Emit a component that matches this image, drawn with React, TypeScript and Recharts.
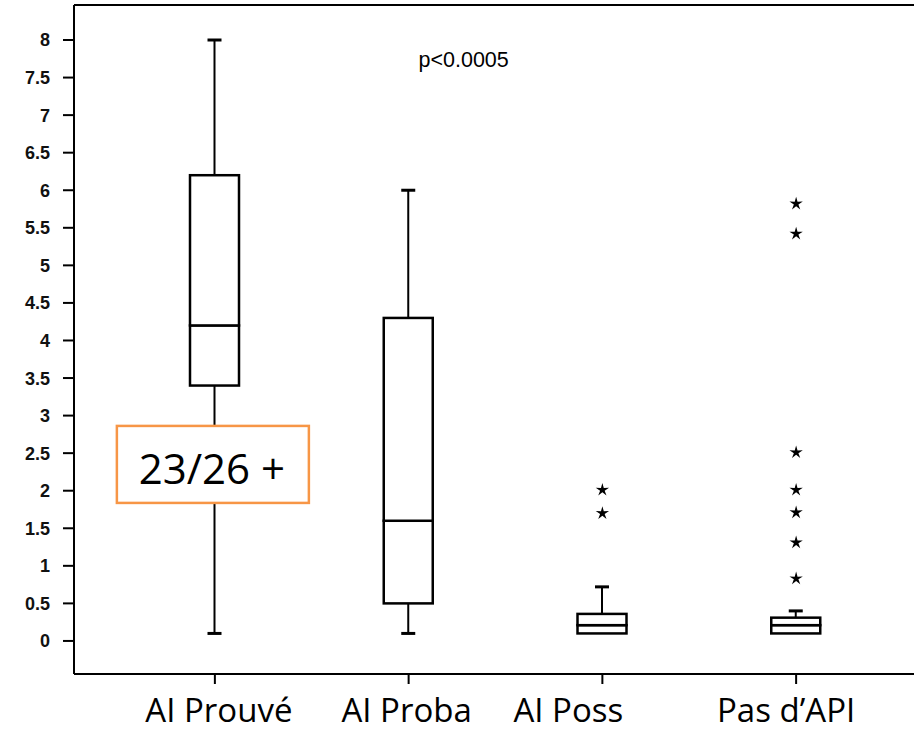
import React from 'react';
import { ComposedChart, Bar, Line, XAxis, YAxis, ReferenceLine, ReferenceDot } from 'recharts';

const categories = ['AI Prouvé', 'AI Proba', 'AI Poss', 'Pas d’API'];
const whiskerLow = [0.1, 0.1, 0.1, 0.1];
const quartile1 = [3.4, 0.5, 0.1, 0.1];
const medians = [4.2, 1.6, 0.21, 0.21];
const quartile3 = [6.2, 4.3, 0.36, 0.31];
const whiskerHigh = [8.0, 6.0, 0.72, 0.4];
const outliers: number[][] = [[], [], [2.01, 1.7], [5.82, 5.42, 2.51, 2.01, 1.71, 1.31, 0.83]];
const yTicks = [0, 0.5, 1, 1.5, 2, 2.5, 3, 3.5, 4, 4.5, 5, 5.5, 6, 6.5, 7, 7.5, 8];
const annotationText = '23/26 +';
const annotationValue = 2.35;
const pValueText = 'p<0.0005';
const pValueY = 7.64;

const Y_MIN = -0.44;
const Y_MAX = 8.466;
const labelShift = [4, -2, -34, -10];
const outlierKeys = ['o1', 'o2', 'o3', 'o4', 'o5', 'o6', 'o7'];

const data = categories.map((name, i) => {
  const row: any = {
    name,
    base: whiskerLow[i],
    lw: quartile1[i] - whiskerLow[i],
    lb: medians[i] - quartile1[i],
    ub: quartile3[i] - medians[i],
    uw: whiskerHigh[i] - quartile3[i],
  };
  outlierKeys.forEach((k, j) => {
    row[k] = outliers[i][j] !== undefined ? outliers[i][j] : null;
  });
  return row;
});

const Empty = () => <g />;

const BoxRect = (p: any) => {
  const { x, y, width, height } = p;
  if (!(height > 0)) return <g />;
  return <rect x={x} y={y} width={width} height={height} fill="#fff" stroke="#000" strokeWidth={2.5} />;
};

const LowerWhisker = (p: any) => {
  const { x, y, width, height } = p;
  if (!(height > 1)) return <g />;
  const cx = x + width / 2;
  return (
    <g>
      <line x1={cx} x2={cx} y1={y} y2={y + height} stroke="#000" strokeWidth={2} />
      <line x1={cx - 7} x2={cx + 7} y1={y + height} y2={y + height} stroke="#000" strokeWidth={3} />
    </g>
  );
};

const UpperWhisker = (p: any) => {
  const { x, y, width, height } = p;
  if (!(height > 1)) return <g />;
  const cx = x + width / 2;
  return (
    <g>
      <line x1={cx} x2={cx} y1={y} y2={y + height} stroke="#000" strokeWidth={2} />
      <line x1={cx - 7} x2={cx + 7} y1={y} y2={y} stroke="#000" strokeWidth={3} />
    </g>
  );
};

const starPath = (cx: number, cy: number, ro: number, ri: number) => {
  const pts: string[] = [];
  for (let i = 0; i < 10; i++) {
    const r = i % 2 === 0 ? ro : ri;
    const a = -Math.PI / 2 + (i * Math.PI) / 5;
    pts.push(`${cx + r * Math.cos(a)},${cy + r * Math.sin(a)}`);
  }
  return 'M' + pts.join('L') + 'Z';
};

const StarDot = (p: any) => {
  const { cx, cy, value, key } = p;
  if (value === null || value === undefined || cy === null || cy === undefined || isNaN(cy)) return <g key={key} />;
  return <path key={key} d={starPath(cx, cy, 7, 2.4)} fill="#000" />;
};

const XTick = (p: any) => {
  const { x, y, payload, index } = p;
  const i = index !== undefined ? index : categories.indexOf(payload.value);
  return (
    <text x={x + (labelShift[i] || 0)} y={y} dy="0.71em" textAnchor="middle" fontFamily="'Open Sans', sans-serif" fontSize={33} fill="#000">
      {payload.value}
    </text>
  );
};

const YTick = (p: any) => {
  const { x, y, payload } = p;
  return (
    <text x={x} y={y} dy="0.36em" textAnchor="end" fontFamily="'Liberation Sans', Arial, sans-serif" fontSize={18} fontWeight="bold" fill="#111">
      {String(payload.value)}
    </text>
  );
};

const AnnotationBox = (p: any) => {
  const { cx, cy } = p;
  return (
    <g>
      <rect x={cx - 98} y={cy - 38.5} width={192} height={77} fill="#fff" stroke="#F79646" strokeWidth={2.5} />
      <text x={cx - 3} y={cy + 19.5} textAnchor="middle" fontFamily="'Open Sans', sans-serif" fontSize={42} fill="#000">
        {annotationText}
      </text>
    </g>
  );
};

const PValue = (p: any) => {
  const { cx, cy } = p;
  return (
    <text x={cx + 55} y={cy} textAnchor="middle" fontFamily="'Liberation Sans', Arial, sans-serif" fontSize={21.5} fill="#000">
      {pValueText}
    </text>
  );
};

export default function App() {
  return (
    <div style={{ position: 'absolute', left: 0, top: 0, width: 914, height: 732, background: '#fff' }}>
      <ComposedChart width={914} height={732} data={data} margin={{ top: 5, right: 0, bottom: 0, left: 0 }}>
        <XAxis
          dataKey="name"
          type="category"
          padding={{ left: 44, right: 21 }}
          height={58}
          interval={0}
          axisLine={{ stroke: '#000', strokeWidth: 2 }}
          tickLine={{ stroke: '#000', strokeWidth: 2 }}
          tickSize={10}
          tickMargin={15}
          tick={<XTick />}
        />
        <YAxis
          type="number"
          domain={[Y_MIN, Y_MAX]}
          allowDataOverflow
          ticks={yTicks}
          interval={0}
          width={74}
          axisLine={{ stroke: '#000', strokeWidth: 2 }}
          tickLine={{ stroke: '#000', strokeWidth: 2 }}
          tickSize={11}
          tickMargin={13}
          tick={<YTick />}
        />
        <ReferenceLine y={Y_MAX} stroke="#000" strokeWidth={2} />
        <Bar dataKey="base" stackId="b" barSize={49} shape={<Empty />} isAnimationActive={false} />
        <Bar dataKey="lw" stackId="b" barSize={49} shape={<LowerWhisker />} isAnimationActive={false} />
        <Bar dataKey="lb" stackId="b" barSize={49} shape={<BoxRect />} isAnimationActive={false} />
        <Bar dataKey="ub" stackId="b" barSize={49} shape={<BoxRect />} isAnimationActive={false} />
        <Bar dataKey="uw" stackId="b" barSize={49} shape={<UpperWhisker />} isAnimationActive={false} />
        {outlierKeys.map((k) => (
          <Line
            key={k}
            dataKey={k}
            stroke="none"
            dot={<StarDot />}
            activeDot={false}
            connectNulls={false}
            isAnimationActive={false}
          />
        ))}
        <ReferenceDot x={categories[0]} y={annotationValue} r={0} shape={<AnnotationBox />} />
        <ReferenceDot x={categories[1]} y={pValueY} r={0} shape={<PValue />} />
      </ComposedChart>
    </div>
  );
}
